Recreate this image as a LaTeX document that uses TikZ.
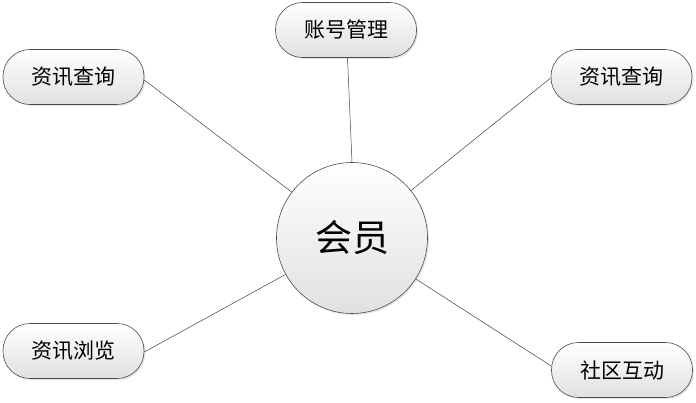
\documentclass[tikz,border=0pt]{standalone}
\usepackage{fontspec}
\setmainfont{Noto Sans CJK SC}
\usetikzlibrary{shadows}
\begin{document}
\begin{tikzpicture}[x=1pt,y=-1pt,
  boxnode/.style={draw=black!70, line width=0.6pt, rounded corners=27pt,
    minimum width=141pt, minimum height=55pt, inner sep=0pt,
    top color=white, bottom color=black!12,
    drop shadow={shadow xshift=1.5pt, shadow yshift=-1.5pt, opacity=0.25, fill=black!40},
    font=\fontsize{21}{24}\selectfont},
  hubnode/.style={circle, draw=black!70, line width=0.6pt, minimum size=151pt, inner sep=0pt,
    top color=white, bottom color=black!12,
    drop shadow={shadow xshift=1.5pt, shadow yshift=-1.5pt, opacity=0.25, fill=black!40},
    font=\fontsize{37}{40}\selectfont},
  link/.style={draw=black!75, line width=0.5pt}]
\useasboundingbox (0,0) rectangle (696,403);
\node[hubnode] (hub) at (352,238) {会员};
\node[boxnode] (acct) at (346,30) {账号管理};
\node[boxnode] (qleft) at (73.5,77) {资讯查询};
\node[boxnode] (qright) at (621.5,77) {资讯查询};
\node[boxnode] (browse) at (73.5,351) {资讯浏览};
\node[boxnode] (comm) at (622,370) {社区互动};
\draw[link] ([xshift=1.5pt]acct.south) -- (hub.north);
\draw[link] ([yshift=-3pt]qleft.east) -- (hub);
\draw[link] ([yshift=-1pt]qright.west) -- (hub);
\draw[link] ([yshift=-1pt]browse.east) -- (hub);
\draw[link] ([yshift=4pt]comm.west) -- (hub);
\end{tikzpicture}
\end{document}
